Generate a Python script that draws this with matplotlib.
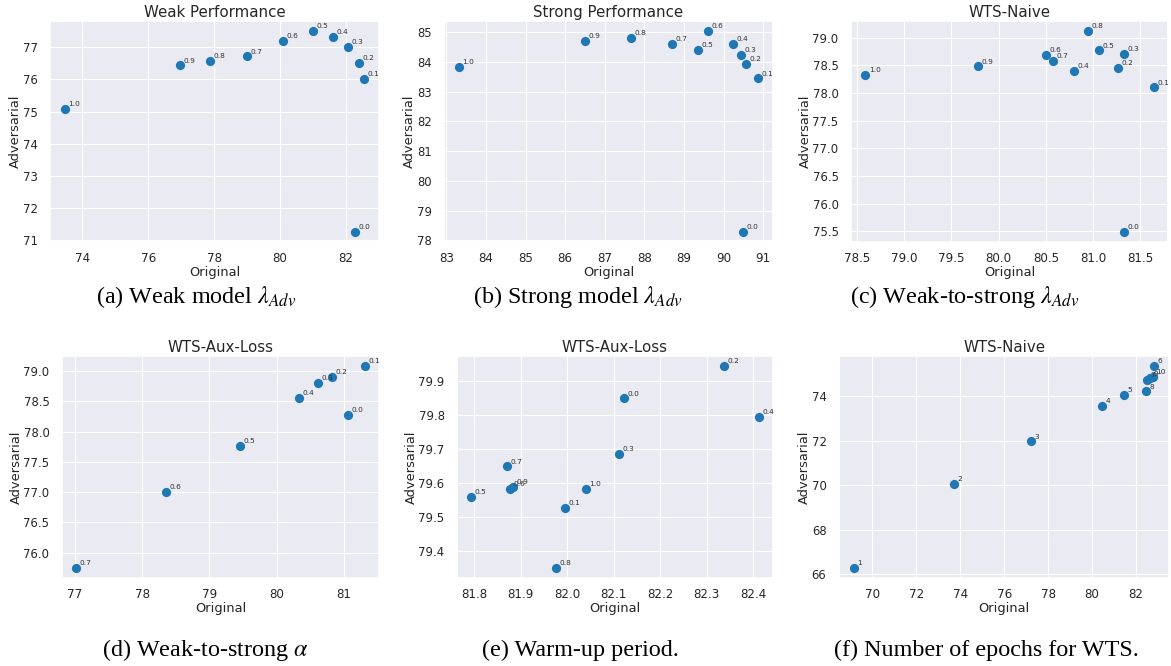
import matplotlib
matplotlib.use("Agg")
import matplotlib.pyplot as plt
import seaborn as sns

sns.set_theme(style="darkgrid")
plt.rcParams['font.family'] = ['DejaVu Sans']
plt.rcParams['mathtext.fontset'] = 'stix'
plt.rcParams['grid.linewidth'] = 0.8

# ---- data ----
a_labels = ["1.0", "0.9", "0.8", "0.7", "0.6", "0.5", "0.4", "0.3", "0.2", "0.1", "0.0"]
a_x = [73.47, 76.97, 77.89, 78.99, 80.09, 81.01, 81.61, 82.07, 82.41, 82.56, 82.30]
a_y = [75.08, 76.43, 76.57, 76.71, 77.19, 77.50, 77.33, 77.00, 76.51, 76.02, 71.26]

b_labels = ["1.0", "0.9", "0.8", "0.7", "0.5", "0.6", "0.4", "0.3", "0.2", "0.1", "0.0"]
b_x = [83.32, 86.49, 87.67, 88.70, 89.35, 89.61, 90.25, 90.44, 90.57, 90.87, 90.48]
b_y = [83.84, 84.71, 84.81, 84.60, 84.40, 85.04, 84.60, 84.24, 83.94, 83.45, 78.28]

c_labels = ["1.0", "0.9", "0.6", "0.7", "0.4", "0.8", "0.5", "0.3", "0.2", "0.1", "0.0"]
c_x = [78.59, 79.78, 80.50, 80.58, 80.80, 80.95, 81.06, 81.33, 81.26, 81.64, 81.33]
c_y = [78.33, 78.48, 78.69, 78.58, 78.40, 79.12, 78.77, 78.71, 78.46, 78.10, 75.49]

d_labels = ["0.7", "0.6", "0.5", "0.4", "0.3", "0.2", "0.1", "0.0"]
d_x = [77.02, 78.36, 79.46, 80.33, 80.61, 80.82, 81.31, 81.06]
d_y = [75.75, 77.01, 77.76, 78.55, 78.80, 78.90, 79.08, 78.27]

e_labels = ["0.5", "0.7", "0.6", "0.9", "0.1", "0.8", "1.0", "0.3", "0.0", "0.2", "0.4"]
e_x = [81.794, 81.871, 81.877, 81.883, 81.995, 81.977, 82.040, 82.112, 82.123, 82.337, 82.412]
e_y = [79.559, 79.648, 79.581, 79.588, 79.525, 79.349, 79.581, 79.685, 79.848, 79.943, 79.794]

f_labels = ["1", "2", "3", "4", "5", "6", "7", "8", "9", "10"]
f_x = [69.16, 73.71, 77.22, 80.44, 81.47, 82.82, 82.50, 82.45, 82.62, 82.76]
f_y = [66.28, 70.06, 71.97, 73.57, 74.04, 75.35, 74.74, 74.21, 74.80, 74.86]

titles = ["Weak Performance", "Strong Performance", "WTS-Naive",
          "WTS-Aux-Loss", "WTS-Aux-Loss", "WTS-Naive"]
captions = [r"(a) Weak model $\lambda_{Adv}$", r"(b) Strong model $\lambda_{Adv}$",
            r"(c) Weak-to-strong $\lambda_{Adv}$", r"(d) Weak-to-strong $\alpha$",
            "(e) Warm-up period.", "(f) Number of epochs for WTS."]

W, H = 1171, 666
fig = plt.figure(figsize=(W / 100, H / 100), dpi=100)

# axes boxes in pixels: left, right, top, bottom
boxes = [(50, 379, 21, 242), (444, 773, 21, 242), (851, 1168, 21, 242),
         (62, 379, 356, 578), (457, 773, 356, 578), (839, 1169, 356, 578)]
caption_pos = [(196, 297), (578, 297), (965, 297), (205, 650), (580, 650), (986, 650)]

data = [(a_x, a_y, a_labels), (b_x, b_y, b_labels), (c_x, c_y, c_labels),
        (d_x, d_y, d_labels), (e_x, e_y, e_labels), (f_x, f_y, f_labels)]

for i, ((xs, ys, labs), (l, r, t, b)) in enumerate(zip(data, boxes)):
    ax = fig.add_axes([l / W, 1 - b / H, (r - l) / W, (b - t) / H])
    ax.scatter(xs, ys, s=44, color="#1f77b4", linewidth=0, zorder=3)
    for x, y, lab in zip(xs, ys, labs):
        ax.annotate(lab, (x, y), xytext=(2.5, 2), textcoords="offset points",
                    fontsize=5.3, color="#333333", zorder=4)
    ax.set_title(titles[i], fontsize=10.8, color="#262626", pad=3)
    ax.set_xlabel("Original", fontsize=9.4, color="#262626", labelpad=1)
    ax.set_ylabel("Adversarial", fontsize=9.4, color="#262626", labelpad=0.5)
    ax.tick_params(axis="x", labelsize=8.6, colors="#262626", pad=1)
    ax.tick_params(axis="y", labelsize=8.4, colors="#262626", pad=3)
    if i == 2 or i == 3:
        ax.yaxis.set_major_formatter(matplotlib.ticker.FormatStrFormatter('%.1f'))
    if i == 2:
        ax.xaxis.set_major_formatter(matplotlib.ticker.FormatStrFormatter('%.1f'))
    cx, cy = caption_pos[i]
    fig.text(cx / W, 1 - cy / H, captions[i], ha="center", va="center",
             fontsize=17.4, family="Liberation Serif", color="black")

fig.savefig("out.png", dpi=100)
